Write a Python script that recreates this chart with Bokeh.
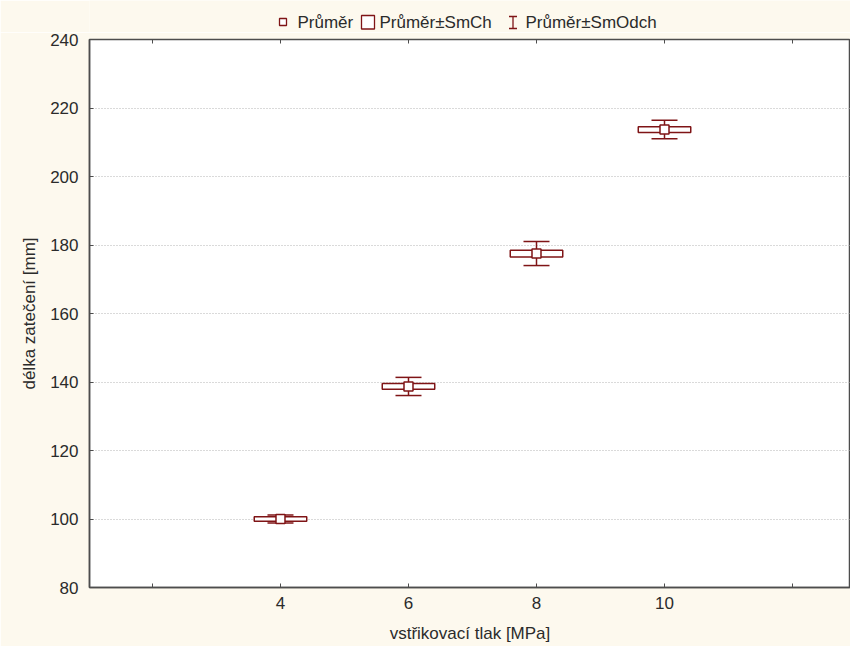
from bokeh.plotting import figure
from bokeh.models import Range1d, FixedTicker, ColumnDataSource, Whisker, TeeHead, LinearAxis
from bokeh.layouts import column
from bokeh.core.properties import value
from bokeh.embed import file_html
from bokeh.resources import INLINE

# Injection pressure groups and measured flow length statistics
pressure_labels = ["4", "6", "8", "10"]
mean_length = [100.0, 138.7, 177.5, 213.7]
se_length = [0.65, 0.85, 1.0, 0.85]
sd_length = [1.2, 2.65, 3.5, 2.7]
y_ticks = [80, 100, 120, 140, 160, 180, 200, 220, 240]

legend_labels = ["Průměr", "Průměr±SmCh", "Průměr±SmOdch"]

MAROON = "#7f1416"
TEXT = "#2b2b2b"
CREAM = "#fdf9ee"
FONT_NAME = "Liberation Sans"
FONT_SIZE = "17px"

xs = list(range(len(pressure_labels)))
src = ColumnDataSource(dict(
    x=xs,
    mean=mean_length,
    se_lo=[m - s for m, s in zip(mean_length, se_length)],
    se_hi=[m + s for m, s in zip(mean_length, se_length)],
    sd_lo=[m - s for m, s in zip(mean_length, sd_length)],
    sd_hi=[m + s for m, s in zip(mean_length, sd_length)],
))

LEGEND_H = 32

p = figure(width=850, height=646 - LEGEND_H, output_backend="svg", toolbar_location=None,
           x_range=Range1d(-1.492, 4.453), y_range=Range1d(y_ticks[0], y_ticks[-1]),
           min_border_left=89, min_border_right=0, min_border_top=39 - LEGEND_H,
           min_border_bottom=59,
           background_fill_color="white", border_fill_color=CREAM,
           outline_line_color="#4d4d4d", outline_line_width=1.5)

# category axis: one slot per pressure plus empty slots at both ends
tick_pos = [-1] + xs + [len(xs)]
overrides = {t: "" for t in tick_pos}
overrides.update({i: lab for i, lab in zip(xs, pressure_labels)})

xa = p.xaxis[0]
xa.ticker = FixedTicker(ticks=tick_pos)
xa.major_label_overrides = overrides
xa.axis_label = "vstřikovací tlak [MPa]"

ya = p.yaxis[0]
ya.ticker = FixedTicker(ticks=y_ticks)
ya.axis_label = "délka zatečení [mm]"

for ax in (xa, ya):
    ax.major_tick_in = 4
    ax.major_tick_out = 0
    ax.minor_tick_line_color = None
    ax.axis_line_color = "#4d4d4d"
    ax.axis_line_width = 1.5
    ax.major_tick_line_color = "#4d4d4d"
    ax.major_label_text_font = FONT_NAME
    ax.major_label_text_font_size = FONT_SIZE
    ax.major_label_text_color = TEXT
    ax.axis_label_text_font = FONT_NAME
    ax.axis_label_text_font_size = FONT_SIZE
    ax.axis_label_text_font_style = "normal"
    ax.axis_label_text_color = TEXT

xa.major_label_standoff = 9
xa.axis_label_standoff = 12
ya.major_label_standoff = 11
ya.axis_label_standoff = 8

# inward ticks along the top edge of the frame, without labels
top = LinearAxis(ticker=FixedTicker(ticks=tick_pos), major_label_overrides=overrides,
                 major_label_text_font_size="1px", major_label_text_color=None,
                 major_label_standoff=0, major_tick_in=4, major_tick_out=0,
                 minor_tick_line_color=None, axis_line_color=None,
                 major_tick_line_color="#4d4d4d")
p.add_layout(top, "above")

p.xgrid.grid_line_color = None
p.ygrid.grid_line_color = "#b4b4b4"
p.ygrid.grid_line_dash = "1 2"
p.ygrid.grid_line_width = 1

# mean ± standard deviation whiskers
whisk = Whisker(source=src, base="x", lower="sd_lo", upper="sd_hi", level="underlay",
                line_color=MAROON, line_width=1.5,
                upper_head=TeeHead(size=26, line_color=MAROON, line_width=1.5),
                lower_head=TeeHead(size=26, line_color=MAROON, line_width=1.5))
p.add_layout(whisk)

# mean ± standard error boxes
p.vbar(x="x", width=0.41, bottom="se_lo", top="se_hi", source=src,
       fill_color="white", line_color=MAROON, line_width=1.5)

# means
p.scatter(x="x", y="mean", source=src, marker="square", size=9,
          fill_color="white", line_color=MAROON, line_width=1.5)

# legend strip above the plot; its frame is aligned with the main frame,
# so the x range is given in page pixels from 89 to 850
lg = figure(width=850, height=LEGEND_H, output_backend="svg", toolbar_location=None,
            x_range=Range1d(89, 850), y_range=Range1d(LEGEND_H, 0),
            x_axis_type=None, y_axis_type=None,
            min_border=0, min_border_left=89, min_border_right=0,
            min_border_top=0, min_border_bottom=0,
            background_fill_color=CREAM, border_fill_color=CREAM,
            outline_line_color=None)
lg.grid.visible = False

lg.scatter(x=[282.5], y=[21.5], marker="square", size=7, fill_color="white",
           line_color=MAROON, line_width=1.3)
lg.quad(left=[361], right=[374], top=[15], bottom=[28.5], fill_color="white",
        line_color=MAROON, line_width=1.3)
lg.segment(x0=[512.5, 508.5, 508.5], y0=[16, 16, 28], x1=[512.5, 516.5, 516.5],
           y1=[28, 16, 28], line_color=MAROON, line_width=1.3)
lg.text(x=[297, 379, 525], y=[22, 22, 22], text=legend_labels,
        text_font=value(FONT_NAME), text_font_size=FONT_SIZE, text_color=TEXT,
        text_baseline="middle", text_align="left")

layout = column(lg, p, spacing=0)
open("out.html", "w").write(file_html(layout, INLINE))
